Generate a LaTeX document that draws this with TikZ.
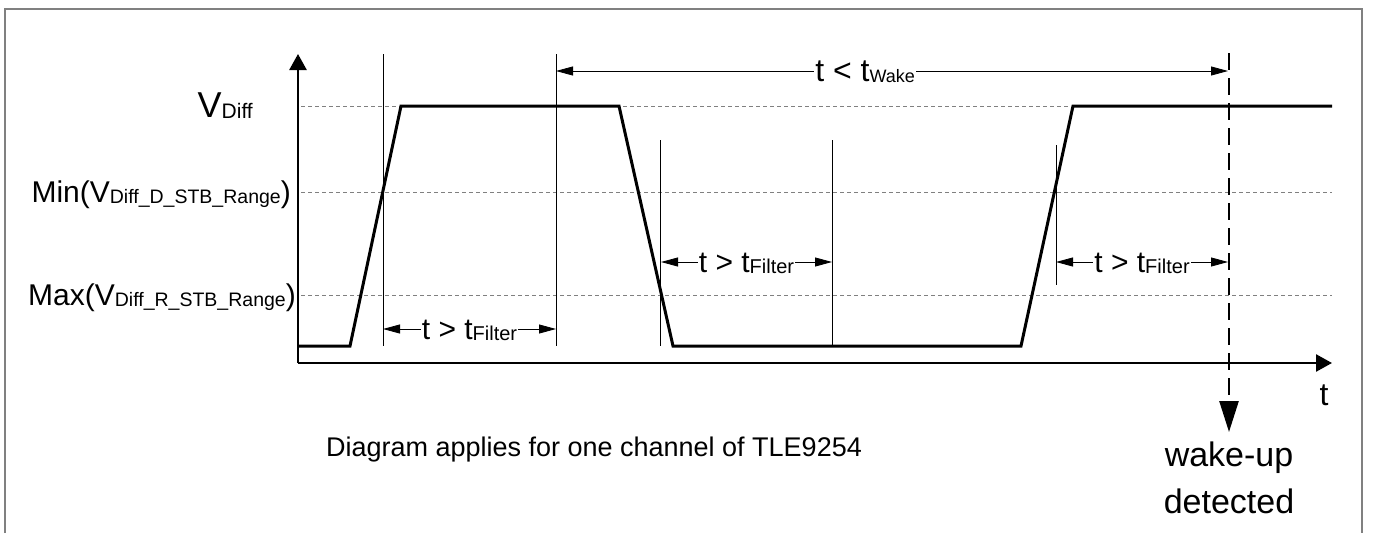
\documentclass[tikz,border=0pt]{standalone}
\usepackage{fontspec}
\setmainfont{Liberation Sans}
\usepackage{tikz}
\usetikzlibrary{positioning}
\usetikzlibrary{arrows.meta}

\newcommand{\lowtxt}[2][18]{\raisebox{-1pt}{\fontsize{#1}{#1}\selectfont #2}}

\begin{document}
\begin{tikzpicture}[x=1pt,y=-1pt]
	\tikzstyle{sig}      = [line width=3pt, line join=miter]
	\tikzstyle{taxis}    = [line width=2.5pt, -{Triangle[length=16pt,width=17pt]}]
	\tikzstyle{thresh}   = [gray, line width=1pt, dash pattern=on 4pt off 3pt]
	\tikzstyle{vmark}    = [line width=0.8pt]
	\tikzstyle{dimarrow} = [line width=0.8pt, {Triangle[length=17pt,width=9pt]}-{Triangle[length=17pt,width=9pt]}]
	\tikzstyle{dimtext}  = [fill=white, inner sep=1pt, text height=21pt, text depth=0pt, font=\fontsize{30}{34}\selectfont]
	\tikzstyle{lvltext}  = [inner sep=0pt, font=\fontsize{30}{34}\selectfont]
	\tikzstyle{wakeline} = [line width=2.5pt, dash pattern=on 17pt off 8pt, -{Triangle[length=31pt,width=19pt]}]
	%\draw[help lines] (0,0) grid (1373,533);
	\useasboundingbox (0,0) rectangle (1373,533);
	\draw[gray, line width=2pt] (5,533) -- (5,9) -- (1362,9) -- (1362,533);

	\coordinate (O) at (298,363); \coordinate (ytop) at (298,54); \coordinate (tend) at (1332,363);
	\draw[taxis] (O) -- (ytop);
	\draw[taxis] (O) -- (tend);
	\node[lvltext, anchor=base, font=\fontsize{32}{36}\selectfont] (tlab) at (1324,405) {t};

	\coordinate (vd) at (301,106);   \coordinate (vdend) at (1071,106);
	\coordinate (vmin) at (301,192); \coordinate (vminend) at (1332,192);
	\coordinate (vmax) at (301,295); \coordinate (vmaxend) at (1332,295);
	\draw[thresh] (vd) -- (vdend);
	\draw[thresh] (vmin) -- (vminend);
	\draw[thresh] (vmax) -- (vmaxend);
	\node[lvltext, anchor=base east, font=\fontsize{36}{40}\selectfont] (lvd) at (253,117) {V\lowtxt[21]{Diff}};
	\node[lvltext, anchor=base east] (lmin) at (291,202) {Min(V\lowtxt[19.5]{Diff\_D\_STB\_Range})};
	\node[lvltext, anchor=base east] (lmax) at (296,305) {Max(V\lowtxt[19.5]{Diff\_R\_STB\_Range})};

	\coordinate (s0) at (298,346);  \coordinate (s1) at (350,346);
	\coordinate (s2) at (401,106);  \coordinate (s3) at (619,106);
	\coordinate (s4) at (673,346);  \coordinate (s5) at (1021,346);
	\coordinate (s6) at (1073,106); \coordinate (s7) at (1332,106);
	\draw[sig] (s0) -- (s1) -- (s2) -- (s3) -- (s4) -- (s5) -- (s6) -- (s7);

	\coordinate (m1t) at (383,54);   \coordinate (m1b) at (383,346);
	\coordinate (m2t) at (556,54);   \coordinate (m2b) at (556,346);
	\coordinate (m3t) at (660,140);  \coordinate (m3b) at (660,346);
	\coordinate (m4t) at (832,140);  \coordinate (m4b) at (832,346);
	\coordinate (m5t) at (1056,145); \coordinate (m5b) at (1056,285);
	\draw[vmark] (m1t) -- (m1b);
	\draw[vmark] (m2t) -- (m2b);
	\draw[vmark] (m3t) -- (m3b);
	\draw[vmark] (m4t) -- (m4b);
	\draw[vmark] (m5t) -- (m5b);

	\coordinate (f1a) at (383,329);  \coordinate (f1b) at (556,329);
	\coordinate (f2a) at (661,262);  \coordinate (f2b) at (832,262);
	\coordinate (f3a) at (1056,262); \coordinate (f3b) at (1228,262);
	\coordinate (w1a) at (556,71);   \coordinate (w1b) at (1228,71);
	\draw[dimarrow] (f1a) -- node[dimtext] (tf1) {t > t\lowtxt[20]{Filter}} (f1b);
	\draw[dimarrow] (f2a) -- node[dimtext] (tf2) {t > t\lowtxt[20]{Filter}} (f2b);
	\draw[dimarrow] (f3a) -- node[dimtext] (tf3) {t > t\lowtxt[20]{Filter}} (f3b);
	\draw[dimarrow] (w1a) -- node[dimtext, pos=0.46, font=\fontsize{32}{36}\selectfont] (tw) {t < t\lowtxt{Wake}} (w1b);

	\coordinate (wk) at (1229,53); \coordinate (wdet) at (1229,432);
	\draw[wakeline] (wk) -- (wdet);
	\node[lvltext, below=10pt of wdet, align=center, font=\fontsize{34}{47}\selectfont] (wu) {wake-up\\detected};

	\node[lvltext, font=\fontsize{27}{32}\selectfont] (note) at (594,450) {Diagram applies for one channel of TLE9254};
\end{tikzpicture}
\end{document}
